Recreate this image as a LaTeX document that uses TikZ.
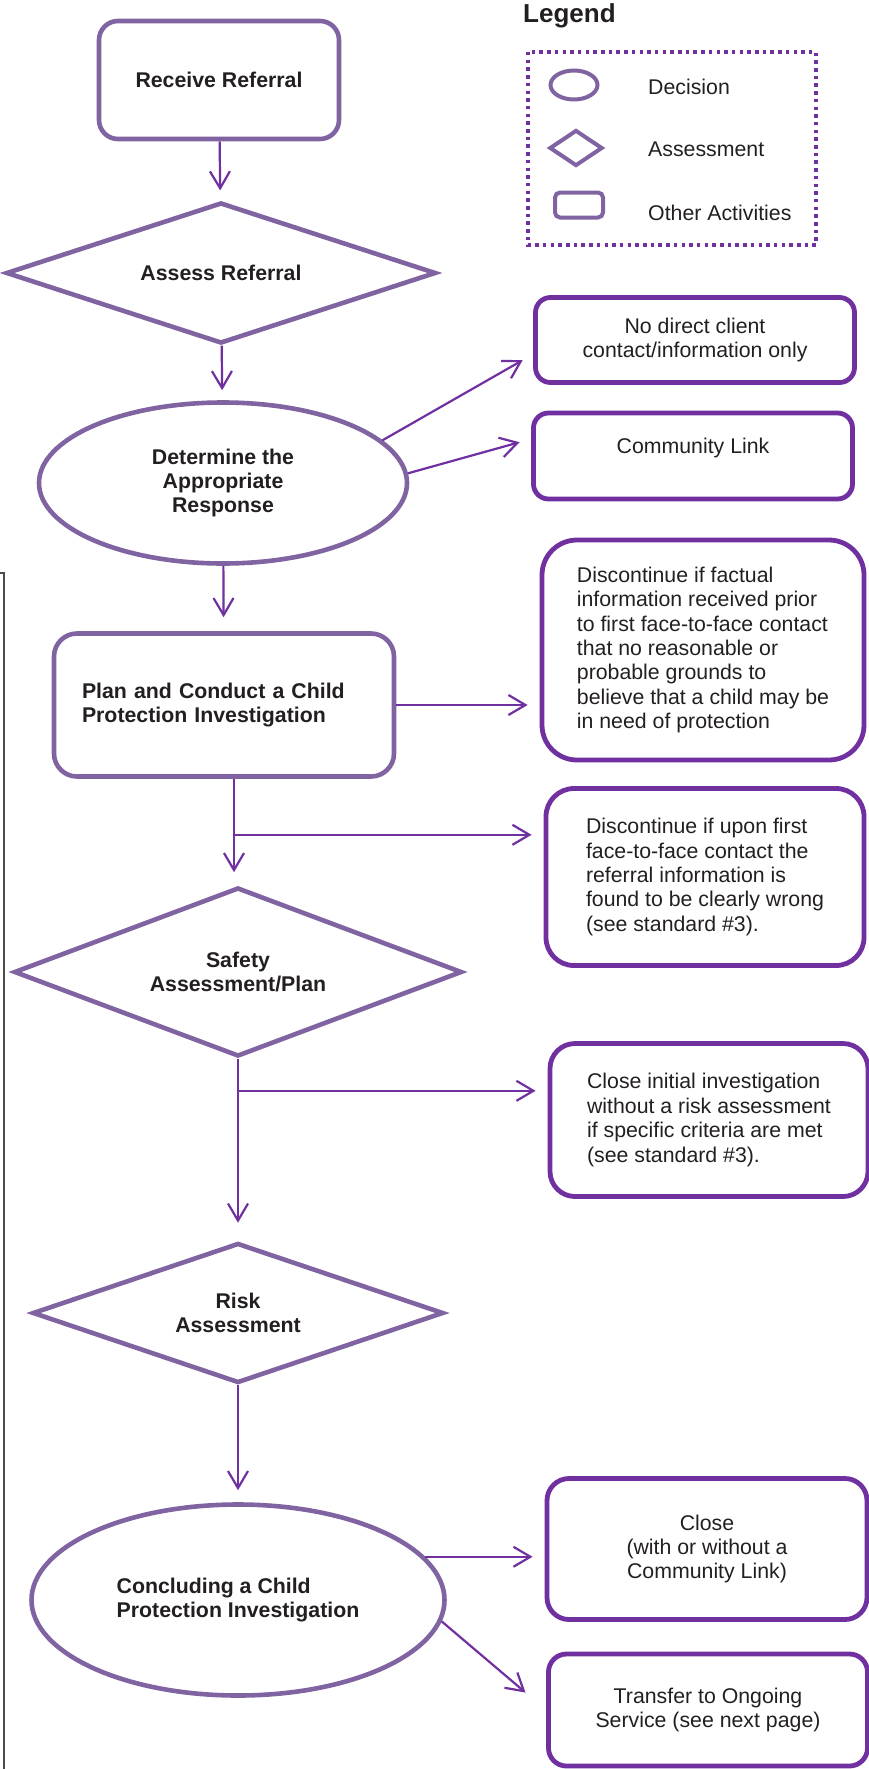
\documentclass[tikz,border=0pt]{standalone}
\usepackage{fontspec}
\setmainfont{Liberation Sans}
\usepackage{xcolor}
\usepackage{tikz}
\usetikzlibrary{shapes}
\usetikzlibrary{shapes.geometric}
\usetikzlibrary{arrows.meta}
\usetikzlibrary{calc}
\usetikzlibrary{positioning}

\definecolor{shapepurple}{HTML}{8064A2}
\definecolor{boxpurple}{HTML}{7030A0}
\definecolor{inkgray}{HTML}{231F20}

\begin{document}
\begin{tikzpicture}[
		x=1pt,
		y=-1pt,
		font=\fontsize{21.3pt}{24.4pt}\selectfont,
		text=inkgray,
		>={Straight Barb[length=17pt,width=20pt]},
	]
		\tikzset{activity/.style={
			draw=shapepurple,
			line width=4.6,
			rectangle,
			rounded corners=#1,
			inner sep=0,
			align=center,
			font=\fontsize{21.3pt}{24.4pt}\selectfont\bfseries,
		},
		activity/.default=20}
		\tikzset{assessment/.style={
			draw=shapepurple,
			line width=4.6,
			diamond,
			aspect=3,
			inner sep=0,
			align=center,
			font=\fontsize{21.3pt}{24.4pt}\selectfont\bfseries,
		}}
		\tikzset{decision/.style={
			draw=shapepurple,
			line width=4.6,
			ellipse,
			inner sep=0,
			align=center,
			font=\fontsize{21.3pt}{24.4pt}\selectfont\bfseries,
		}}
		\tikzset{outcome/.style={
			draw=boxpurple,
			line width=4.8,
			rectangle,
			rounded corners=#1,
			inner sep=0,
			align=center,
		},
		outcome/.default=20}
		\tikzset{keyshape/.style={
			draw=shapepurple,
			line width=4,
			inner sep=0,
		}}
		\tikzset{legendframe/.style={
			draw=boxpurple,
			line width=3.5,
			dash pattern=on 3.5 off 4.2,
		}}
		\tikzset{flow/.style={
			draw=boxpurple,
			line width=2.2,
			->,
			shorten >=12,
		}}

		\useasboundingbox (0,0) rectangle (869,1769);

		\node[
			activity=19,
			minimum width=240,
			minimum height=118,
		] (receive) at (219,80) {Receive Referral};
		\node[
			assessment,
			minimum width=430,
			minimum height=141,
		] (assessref) at (221,273) {Assess Referral};
		\node[
			decision,
			minimum width=368,
			minimum height=161,
		] (respond) at (223,483) {Determine the\\Appropriate\\Response};
		\node[
			activity=23,
			minimum width=340,
			minimum height=143,
			text width=284,
			align=left,
		] (plan) at (224,705) {Plan and Conduct a Child\\Protection Investigation};
		\node[
			assessment,
			minimum width=448,
			minimum height=169,
		] (safety) at (238,972) {Safety\\Assessment/Plan};
		\node[
			assessment,
			minimum width=411,
			minimum height=140,
		] (risk) at (238,1313) {Risk\\Assessment};
		\node[
			decision,
			minimum width=413,
			minimum height=191,
			align=left,
		] (conclude) at (238,1600) {Concluding a Child\\Protection Investigation};

		\node[
			outcome=15,
			minimum width=319,
			minimum height=85,
		] (nocontact) at (695,340) {No direct client\\contact/information only};
		\node[
			outcome=15,
			minimum width=319,
			minimum height=86,
			text depth=20,
		] (commlink) at (693,456) {Community Link};
		\node[
			outcome=35,
			minimum width=322,
			minimum height=220,
			align=left,
		] (factual) at (703,650) {Discontinue if factual\\information received prior\\to first face-to-face contact\\that no reasonable or\\probable grounds to\\believe that a child may be\\in need of protection};
		\node[
			outcome=28,
			minimum width=318,
			minimum height=177,
			align=left,
		] (upon) at (705,877) {Discontinue if upon first\\face-to-face contact the\\referral information is\\found to be clearly wrong\\(see standard \#3).};
		\node[
			outcome=25,
			minimum width=318,
			minimum height=153,
			align=left,
		] (closeinit) at (709,1120) {Close initial investigation\\without a risk assessment\\if specific criteria are met\\(see standard \#3).};
		\node[
			outcome=22,
			minimum width=320,
			minimum height=141,
		] (closecase) at (707,1549) {Close\\(with or without a\\Community Link)};
		\node[
			outcome=18,
			minimum width=319,
			minimum height=112,
		] (transfer) at (708,1710) {Transfer to Ongoing\\Service (see next page)};

		\node[
			anchor=base west,
			inner sep=0,
			font=\fontsize{26pt}{30pt}\selectfont\bfseries,
		] (legendtitle) at (523,23) {Legend};
		\draw[legendframe] (528,52) rectangle (816,245);
		\node[keyshape, ellipse, minimum width=47, minimum height=29] (keydecision) at (574,85) {};
		\node[keyshape, diamond, minimum width=53, minimum height=36] (keyassess) at (576,148) {};
		\node[keyshape, rectangle, rounded corners=5, minimum width=48, minimum height=25] (keyother) at (579,205) {};
		\node[anchor=base west, inner sep=0] (keydecisiontext) at (648,95) {Decision};
		\node[anchor=base west, inner sep=0] (keyassesstext) at (648,156) {Assessment};
		\node[anchor=base west, inner sep=0] (keyothertext) at (648,220) {Other Activities};

		\draw[flow, shorten >=10] (receive) -- (assessref);
		\draw[flow, shorten >=10] (assessref) -- (respond);
		\draw[flow] (respond.15) -- (nocontact.185);
		\draw[flow] (respond.3) -- (commlink.174);
		\draw[flow, shorten >=14] (respond) -- (plan);
		\draw[flow] (plan) -- (plan -| factual.west);

		\coordinate (plandrop) at ($(plan.south)+(10,0)$);
		\coordinate (splitone) at ($(plandrop)+(0,56)$);
		\draw[flow, shorten >=13] (plandrop) -- (plandrop |- safety.north);
		\draw[flow] (splitone) -- (splitone -| upon.west);

		\coordinate (splittwo) at ($(safety.south)+(0,32)$);
		\draw[flow, shorten >=18] (safety) -- (risk);
		\draw[flow] (splittwo) -- (splittwo -| closeinit.west);

		\draw[flow, shorten >=12] (risk) -- (conclude);
		\draw[flow] (conclude.13) -- (conclude.13 -| closecase.west);
		\draw[flow, shorten >=27] (conclude.-6) -- (transfer.west);

		\draw[line width=1.5, draw=black!70] (0,573) -- (4,573) -- (4,1769);
	\end{tikzpicture}
\end{document}
